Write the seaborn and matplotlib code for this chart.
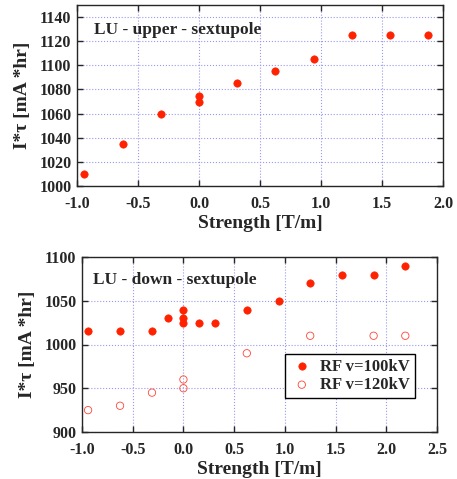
import matplotlib
matplotlib.use("Agg")
import matplotlib.pyplot as plt
import seaborn as sns
import pandas as pd

# upper sextupole scan
up_x = [-0.94, -0.625, -0.31, 0.0, 0.0, 0.31, 0.625, 0.94, 1.25, 1.5625, 1.875]
up_y = [1010, 1035, 1060, 1075, 1070, 1085, 1095, 1105, 1125, 1125, 1125]

# down sextupole scan, RF 100 kV
dn100_x = [-0.94, -0.625, -0.31, -0.156, 0.0, 0.0, 0.0, 0.156, 0.31, 0.625, 0.94,
           1.25, 1.5625, 1.875, 2.1875]
dn100_y = [1015, 1015, 1015, 1030, 1040, 1030, 1025, 1025, 1025, 1040, 1050,
           1070, 1080, 1080, 1090]

# down sextupole scan, RF 120 kV
dn120_x = [-0.94, -0.625, -0.31, 0.0, 0.0, 0.625, 1.25, 1.875, 2.1875]
dn120_y = [925, 930, 945, 960, 950, 990, 1010, 1010, 1010]

red = "#ff2200"

sns.set_style("ticks")
plt.rcParams["font.family"] = ["Liberation Serif", "DejaVu Serif"]
plt.rcParams["font.weight"] = "bold"

fig = plt.figure(figsize=(4.57, 4.79), dpi=100)
ax1 = fig.add_axes([77 / 457, 1 - 186 / 479, 366 / 457, 181 / 479])
ax2 = fig.add_axes([82 / 457, 1 - 432 / 479, 355 / 457, 175 / 479])

df_up = pd.DataFrame({"x": up_x, "y": up_y})
sns.scatterplot(data=df_up, x="x", y="y", ax=ax1, color=red, s=28,
                edgecolor=red, linewidth=0.5, zorder=3)

df100 = pd.DataFrame({"x": dn100_x, "y": dn100_y})
df120 = pd.DataFrame({"x": dn120_x, "y": dn120_y})
sns.scatterplot(data=df100, x="x", y="y", ax=ax2, color=red, s=28,
                edgecolor=red, linewidth=0.5, zorder=3, label="RF v=100kV")
sns.scatterplot(data=df120, x="x", y="y", ax=ax2, facecolor="none", s=28,
                edgecolor="#ff4433", linewidth=0.6, zorder=3, label="RF v=120kV")

for ax in (ax1, ax2):
    ax.grid(True, color="#9999ee", linestyle=":", linewidth=0.8)
    ax.tick_params(direction="in", top=True, right=True, length=4,
                   labelsize=11.5, width=1)
    ax.tick_params(axis="x", pad=7)
    ax.tick_params(axis="y", pad=4)
    for sp in ax.spines.values():
        sp.set_linewidth(1.0)
    ax.set_xlabel("Strength [T/m]", fontsize=14, fontweight="bold", labelpad=2)
    ax.set_ylabel("I*τ [mA *hr]", fontsize=14, fontweight="bold", labelpad=6)

ax1.set_xlim(-1.0, 2.0)
ax1.set_ylim(1000, 1150)
xt1 = [-1.0, -0.5, 0.0, 0.5, 1.0, 1.5, 2.0]
ax1.set_xticks(xt1)
ax1.set_xticklabels([f"{v:.1f}" for v in xt1], fontweight="bold")
yt1 = list(range(1000, 1141, 20))
ax1.set_yticks(yt1)
ax1.set_yticklabels([str(v) for v in yt1], fontweight="bold")
ax1.text(0.046, 0.86, "LU - upper - sextupole", transform=ax1.transAxes,
         fontsize=12.5, fontweight="bold", va="center")

ax2.set_xlim(-1.0, 2.5)
ax2.set_ylim(900, 1100)
xt2 = [-1.0, -0.5, 0.0, 0.5, 1.0, 1.5, 2.0, 2.5]
ax2.set_xticks(xt2)
ax2.set_xticklabels([f"{v:.1f}" for v in xt2], fontweight="bold")
yt2 = list(range(900, 1101, 50))
ax2.set_yticks(yt2)
ax2.set_yticklabels([str(v) for v in yt2], fontweight="bold")
ax2.text(0.03, 0.87, "LU - down - sextupole", transform=ax2.transAxes,
         fontsize=12.5, fontweight="bold", va="center")
leg = ax2.legend(loc="lower right", bbox_to_anchor=(0.938, 0.194),
                 frameon=True, fancybox=False, edgecolor="black",
                 handletextpad=0.4, borderpad=0.3, labelspacing=0.15,
                 handlelength=1.4, borderaxespad=0,
                 prop={"weight": "bold", "size": 12})
leg.get_frame().set_linewidth(1.0)
leg.get_frame().set_alpha(1)

fig.savefig("out.png", dpi=100)
